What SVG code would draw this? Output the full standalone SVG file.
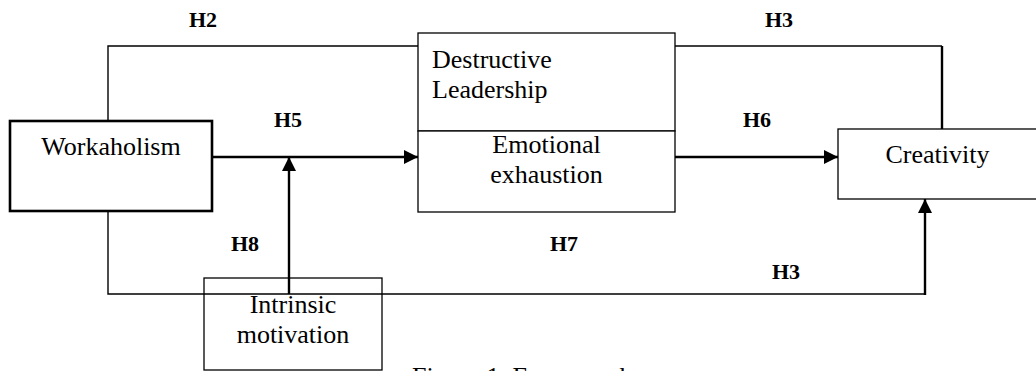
<svg xmlns="http://www.w3.org/2000/svg" width="1036" height="371" viewBox="0 0 1036 371">
<style>
  .box { fill: #ffffff; stroke: #000; stroke-width: 1.3; }
  .thick { fill: #ffffff; stroke: #000; stroke-width: 2.6; }
  .t { font-family: "Liberation Serif", "Times New Roman", serif; font-size: 26px; fill: #000; }
  .h { font-family: "Liberation Serif", "Times New Roman", serif; font-size: 22px; font-weight: bold; fill: #000; text-anchor: middle; }
  .ln { fill: none; stroke: #000; stroke-width: 1.4; }
  .ln2 { fill: none; stroke: #000; stroke-width: 2.4; }
</style>
<defs>
  <marker id="arr" markerWidth="14" markerHeight="14" refX="14" refY="7" orient="auto" markerUnits="userSpaceOnUse">
    <path d="M0,0 L14,7 L0,14 Z" fill="#000"/>
  </marker>
</defs>
<rect width="1036" height="371" fill="#ffffff"/>
<g id="connectors">
  <polyline class="ln" points="108,121 108,46 418,46"/>
  <polyline class="ln" points="675,46 942,46"/>
  <line class="ln2" x1="942" y1="46" x2="942" y2="129"/>
  <line class="ln2" x1="212" y1="157" x2="418" y2="157" marker-end="url(#arr)"/>
  <line class="ln2" x1="675" y1="157" x2="838" y2="157" marker-end="url(#arr)"/>
  <polyline class="ln" points="108,212 108,294 925,294"/>
  <line class="ln2" x1="925" y1="295" x2="925" y2="199" marker-end="url(#arr)"/>
</g>
<g id="workaholism">
  <rect class="thick" x="10" y="121" width="202" height="90"/>
  <text class="t" x="111" y="155" text-anchor="middle">Workaholism</text>
</g>
<g id="destructive-leadership">
  <rect class="box" x="418" y="33" width="257" height="98"/>
  <text class="t" x="432" y="68">Destructive</text>
  <text class="t" x="432" y="98">Leadership</text>
</g>
<g id="emotional-exhaustion">
  <rect class="box" x="418" y="131" width="257" height="81"/>
  <text class="t" x="546.5" y="153" text-anchor="middle">Emotional</text>
  <text class="t" x="546.5" y="183" text-anchor="middle">exhaustion</text>
</g>
<g id="creativity">
  <rect class="box" x="838" y="129" width="210" height="70"/>
  <text class="t" x="937.5" y="163" text-anchor="middle">Creativity</text>
</g>
<g id="intrinsic-motivation">
  <rect class="box" x="204" y="278" width="178" height="92" fill="none" style="fill:none"/>
  <text class="t" x="293" y="313" text-anchor="middle">Intrinsic</text>
  <text class="t" x="293" y="343" text-anchor="middle">motivation</text>
</g>
<g id="moderator-arrow">
  <line class="ln2" x1="289" y1="294" x2="289" y2="157" marker-end="url(#arr)"/>
</g>
<g id="labels">
  <text class="h" x="203" y="27">H2</text>
  <text class="h" x="779" y="27">H3</text>
  <text class="h" x="288" y="127">H5</text>
  <text class="h" x="757" y="127">H6</text>
  <text class="h" x="245" y="251">H8</text>
  <text class="h" x="564" y="251">H7</text>
  <text class="h" x="786" y="279">H3</text>
  <text class="t" x="412" y="385">Figure 1. Framework</text>
</g>
</svg>
